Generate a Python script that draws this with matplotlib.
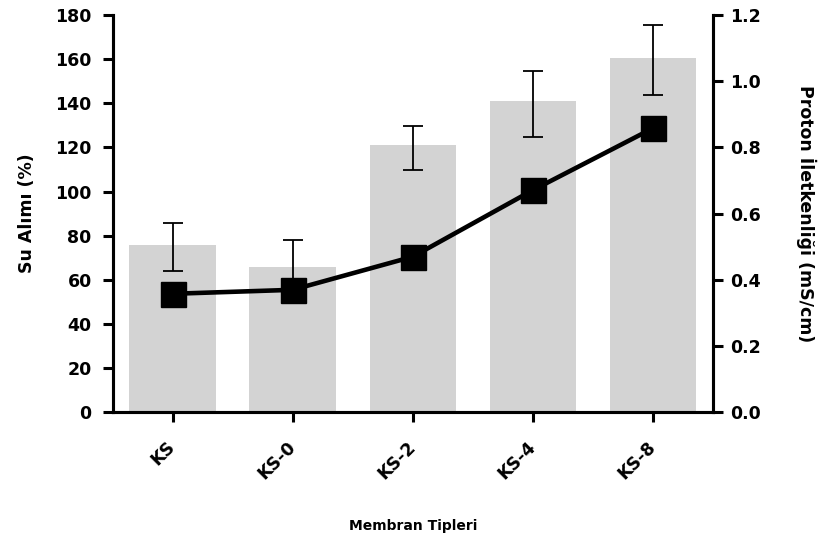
import numpy as np
import matplotlib.pyplot as plt

plt.rcParams['font.family'] = ['DejaVu Sans']
plt.rcParams['font.weight'] = 'bold'

# datos
membranas = ['KS', 'KS-0', 'KS-2', 'KS-4', 'KS-8']
su_alimi = [76, 66, 121, 141, 160.5]
err_alt = [12.2, 12, 11.3, 16.2, 16.8]
err_ust = [9.9, 12, 8.5, 13.7, 15]
proton = [0.358, 0.370, 0.470, 0.671, 0.858]

fig = plt.figure(figsize=(8.26, 5.47), dpi=100)
ax = fig.add_axes([0.1362, 0.2462, 0.727, 0.7264])
x = np.arange(len(membranas))

ax.bar(x, su_alimi, width=0.72, color='#d3d3d3', zorder=1)
ax.errorbar(x, su_alimi, yerr=[err_alt, err_ust], fmt='none', ecolor='black',
            elinewidth=1.3, capsize=7, capthick=1.3, zorder=2)
ax.set_xlim(-0.5, 4.5)
ax.set_ylim(0, 180)
ax.set_yticks(np.arange(0, 181, 20))
ax.set_xticks(x)
ax.set_xticklabels(membranas, rotation=45, ha='right', va='center',
                   rotation_mode='anchor')
ax.set_ylabel('Su Alımı (%)', fontsize=12.5, fontweight='bold')
ax.yaxis.set_label_coords(-0.128, 0.5)
ax.set_xlabel('Membran Tipleri', fontsize=10, fontweight='bold')
ax.xaxis.set_label_coords(0.5, -0.268)

ax2 = ax.twinx()
ax2.plot(x, proton, color='black', lw=3.3, marker='s', markersize=18, zorder=3)
ax2.set_ylim(0, 1.2)
ax2.set_yticks(np.arange(0, 1.21, 0.2))
ax2.set_yticklabels(['%.1f' % v for v in np.arange(0, 1.21, 0.2)])
ax2.set_ylabel('Proton İletkenliği (mS/cm)', fontsize=12.5, fontweight='bold',
               rotation=-90, va='bottom')
ax2.yaxis.set_label_coords(1.138, 0.5)

for a in (ax, ax2):
    a.spines['top'].set_visible(False)
    for s in a.spines.values():
        s.set_linewidth(2.2)
    a.tick_params(width=2.2, length=7, labelsize=12.5, pad=5)
    for lab in a.get_xticklabels() + a.get_yticklabels():
        lab.set_fontweight('bold')
ax.tick_params(axis='y', pad=8)
ax.tick_params(axis='x', pad=16)

fig.savefig('out.png', dpi=100)
